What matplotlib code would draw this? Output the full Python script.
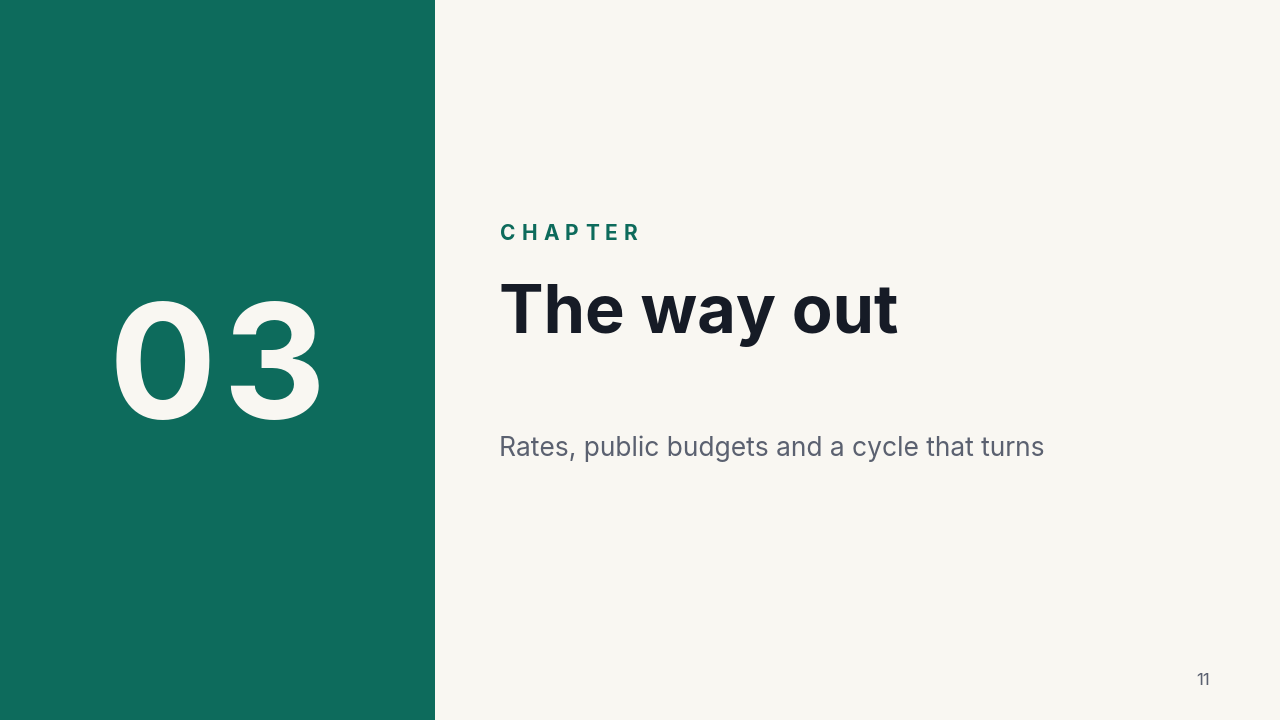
import matplotlib.pyplot as plt
from matplotlib.patches import Rectangle

# --------- Content ---------
chapter_number = "03"
kicker = "CHAPTER"
title = "The way out"
subtitle = "Rates, public budgets and a cycle that turns"
page_number = "11"

# --------- Style ---------
W, H = 1280, 720
GREEN = "#0D6B5C"
BG = "#F9F7F2"
INK = "#161B26"
GREY = "#5B6170"
FONT = ["Inter", "DejaVu Sans"]


def px(x, y):
    # pixel coords (top-left origin) -> figure fraction
    return x / W, 1 - y / H


fig = plt.figure(figsize=(W / 100, H / 100), dpi=100)
fig.patch.set_facecolor(BG)

fig.patches.append(Rectangle((0, 0), 435 / W, 1, transform=fig.transFigure,
                             facecolor=GREEN, edgecolor="none"))

# big chapter digits, placed one by one to open up the spacing a bit
for ch, cx in zip(chapter_number, [163, 274]):
    fig.text(*px(cx, 418), ch, color=BG, fontsize=115, fontweight="bold",
             family=FONT, ha="center", va="baseline")

# letter-spaced kicker
x = 500
for ch in kicker:
    t = fig.text(*px(x, 240), ch, color=GREEN, fontsize=15, fontweight="bold",
                 family=FONT, ha="left", va="baseline")
    fig.canvas.draw()
    bb = t.get_window_extent()
    x += bb.width + 6.2

fig.text(*px(499, 333), title, color=INK, fontsize=48, fontweight="bold",
         family=FONT, ha="left", va="baseline")

fig.text(*px(499, 456), subtitle, color=GREY, fontsize=19,
         family=FONT, ha="left", va="baseline")

fig.text(*px(1210, 685), page_number, color=GREY, fontsize=12,
         family=FONT, ha="right", va="baseline")

fig.savefig("out.png", dpi=100, facecolor=BG)
